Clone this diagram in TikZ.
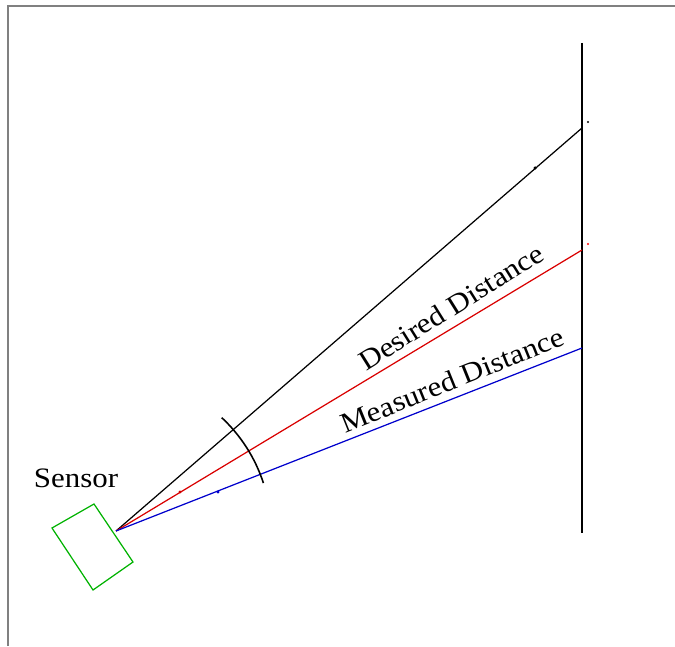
\documentclass[tikz,border=0pt]{standalone}
\usepackage{fontspec}
\setmainfont{Liberation Serif}
\tikzset{
  ray/.style={line width=0.7pt},
  wall/.style={line width=1.2pt},
  sensorbox/.style={draw=green!70!black, line width=0.7pt},
  label/.style={font=\fontsize{16}{18}\selectfont, inner sep=0pt},
  tick/.style={fill, circle, inner sep=0pt, minimum size=2pt}
}
\begin{document}
\begin{tikzpicture}[x=0.02cm, y=0.02cm]
    \useasboundingbox (0,0) rectangle (675,646);
    % frame
    \draw[gray, line width=1.1pt] (8,0) -- (8,640) -- (675,640);

    % sensor and wall
    \coordinate (S) at (116,115);
    \coordinate (walltop) at (582,603);
    \coordinate (wallbot) at (582,113);
    \draw[wall] (walltop) -- (wallbot);
    \draw[sensorbox] (52,118) -- (94,142) -- (133,84) -- (93,56) -- cycle;
    \node[label, xscale=1.1] (sensorlbl) at (76,168) {Sensor};

    % rays to the wall
    \coordinate (Bend) at (582,518);
    \coordinate (Rend) at (582,396);
    \coordinate (Uend) at (582,298);
    \draw[ray, black] (S) -- (Bend);
    \draw[ray, red!85!black] (S) -- (Rend);
    \draw[ray, blue!80!black] (S) -- (Uend);

    % beam angle
    \draw[line width=0.9pt] ([shift={(47:155)}]S) arc (47:18:155);

    % small marks
    \node[tick] at (535,478) {};
    \node[tick, red!80!black, minimum size=1.8pt] at (180,154) {};
    \node[tick, blue!80!black, minimum size=1.8pt] at (218,154) {};
    \node[tick, minimum size=1.4pt] at (588,524) {};
    \node[tick, red, minimum size=1.4pt] at (588,402) {};

    % labels
    \node[label, rotate=32, xscale=1.1] (desired) at (451,339) {Desired Distance};
    \node[label, rotate=22, xscale=1.1] (measured) at (452,266) {Measured Distance};
\end{tikzpicture}
\end{document}
